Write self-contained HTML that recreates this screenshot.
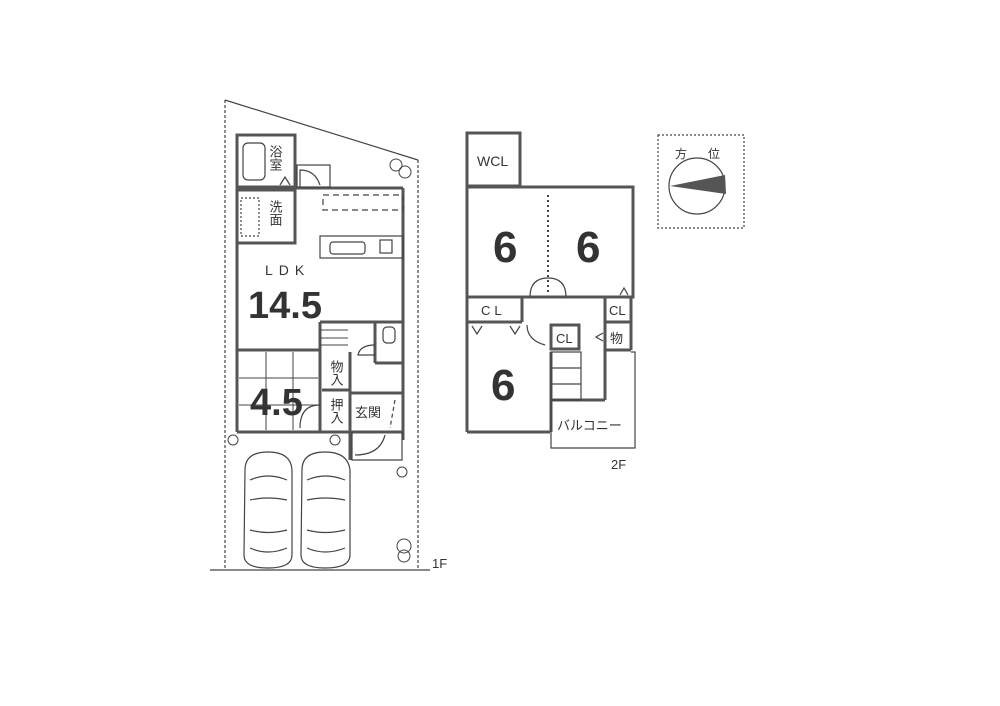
<!DOCTYPE html>
<html><head><meta charset="utf-8"><style>
html,body{margin:0;padding:0;background:#fff;}
svg{display:block}
text{font-family:"Liberation Sans","Noto Sans CJK JP",sans-serif;fill:#333}
</style></head><body>
<svg width="1000" height="706" viewBox="0 0 1000 706" xmlns="http://www.w3.org/2000/svg">
<g fill="none" stroke="#444" stroke-width="1.2">
<line x1="225" y1="100" x2="225" y2="570" stroke-dasharray="3,2"/>
<line x1="225" y1="100" x2="418" y2="160"/>
<line x1="418" y1="160" x2="418" y2="570" stroke-dasharray="3,2"/>
<line x1="210" y1="570" x2="430" y2="570"/>
<g stroke-width="3" stroke="#555">
<rect x="237" y="135" width="58" height="52"/>
<rect x="237" y="190" width="58" height="53"/>
<line x1="295" y1="188" x2="403" y2="188"/>
<line x1="403" y1="188" x2="403" y2="440"/>
<line x1="237" y1="243" x2="237" y2="432"/>
<line x1="237" y1="350" x2="320" y2="350"/>
<line x1="237" y1="432" x2="402" y2="432"/>
<line x1="320" y1="322" x2="402" y2="322"/>
<line x1="320" y1="322" x2="320" y2="432"/>
<line x1="350" y1="352" x2="350" y2="460"/>
<line x1="375" y1="322" x2="375" y2="363"/>
<line x1="375" y1="363" x2="402" y2="363"/>
<line x1="350" y1="393" x2="402" y2="393"/>
<line x1="322" y1="390" x2="350" y2="390"/>
</g>
<rect x="243" y="143" width="22" height="37" rx="5"/>
<rect x="297" y="165" width="33" height="22"/>
<path d="M300 187 V170 Q315 170 320 185"/>
<rect x="323" y="195" width="80" height="15" stroke-dasharray="6,4"/>
<rect x="320" y="236" width="83" height="22"/>
<rect x="330" y="242" width="35" height="12" rx="3"/>
<rect x="380" y="240" width="12" height="13"/>
<rect x="241" y="198" width="18" height="38" stroke-dasharray="2,2"/>
<g stroke-width="1">
<line x1="320" y1="330" x2="348" y2="330"/><line x1="320" y1="338" x2="348" y2="338"/><line x1="320" y1="345" x2="348" y2="345"/>
<line x1="266" y1="352" x2="266" y2="430"/><line x1="293" y1="352" x2="293" y2="430"/><line x1="239" y1="378" x2="318" y2="378"/><line x1="239" y1="405" x2="318" y2="405"/>
</g>
<rect x="383" y="327" width="12" height="16" rx="4"/>
<path d="M375 345 Q360 345 358 355 L375 355"/>
<path d="M300 428 Q300 405 320 405"/>
<path d="M352 432 V460 H402 V432"/>
<path d="M355 455 Q380 455 385 435"/>
<line x1="395" y1="400" x2="390" y2="428" stroke-dasharray="4,3"/>
<g stroke-width="1.2">
<path d="M245 470 Q245 452 268 452 Q291 452 292 470 L292 555 Q292 568 268 568 Q244 568 244 555 Z"/>
<path d="M250 480 Q268 472 287 480 M250 500 Q268 496 287 500 M250 530 Q268 535 287 530 M250 548 Q268 556 287 548"/>
<path d="M302 470 Q302 452 325 452 Q348 452 350 470 L350 555 Q350 568 325 568 Q301 568 301 555 Z"/>
<path d="M307 480 Q325 472 345 480 M307 500 Q325 496 345 500 M307 530 Q325 535 345 530 M307 548 Q325 556 345 548"/>
</g>
<g stroke-width="1">
<circle cx="233" cy="440" r="5"/><circle cx="335" cy="440" r="5"/><circle cx="402" cy="472" r="5"/>
<circle cx="404" cy="546" r="7"/><circle cx="404" cy="556" r="6"/><circle cx="396" cy="165" r="6"/><circle cx="405" cy="172" r="6"/>
</g>
<g stroke-width="3" stroke="#555">
<rect x="467" y="133" width="53" height="53"/>
<rect x="467" y="187" width="166" height="110"/>
<line x1="467" y1="297" x2="467" y2="432"/>
<line x1="467" y1="432" x2="550" y2="432"/>
<line x1="467" y1="322" x2="522" y2="322"/>
<line x1="522" y1="297" x2="522" y2="322"/>
<line x1="605" y1="297" x2="605" y2="350"/>
<line x1="631" y1="297" x2="631" y2="350"/>
<line x1="605" y1="322" x2="631" y2="322"/>
<line x1="605" y1="350" x2="631" y2="350"/>
<rect x="551" y="325" width="28" height="24"/>
<line x1="551" y1="352" x2="551" y2="432"/>
<line x1="551" y1="400" x2="605" y2="400"/>
<line x1="605" y1="350" x2="605" y2="400"/>
</g>
<line x1="548" y1="195" x2="548" y2="295" stroke-dasharray="2,3" stroke-width="2"/>
<path d="M530 297 Q530 278 548 278 Q566 278 566 297"/>
<rect x="551" y="352" width="30" height="48"/>
<line x1="551" y1="368" x2="581" y2="368"/><line x1="551" y1="384" x2="581" y2="384"/>
<path d="M551 400 V448 H635 V352 H631"/>
<path d="M527 325 Q527 340 545 345"/>
<path d="M472 326 L477 334 L482 326 M510 326 L515 334 L520 326 M620 295 L624 288 L628 295 M603 333 L596 337 L603 341"/>
<path d="M280 185 L285 177 L290 185"/>
<rect x="658" y="135" width="86" height="93" stroke-dasharray="2,2"/>
<circle cx="697" cy="186" r="28"/>
</g>
<path d="M670 186 L725 175 L726 194 Z" fill="#555"/>
<text x="275" y="145" font-size="13" writing-mode="tb">浴室</text>
<text x="275" y="200" font-size="13" writing-mode="tb">洗面</text>
<text x="265" y="275" font-size="14" letter-spacing="6">LDK</text>
<text x="248" y="318" font-size="38" font-weight="bold" fill="#555">14.5</text>
<text x="250" y="415" font-size="38" font-weight="bold" fill="#555">4.5</text>
<text x="336" y="360" font-size="13" writing-mode="tb">物入</text>
<text x="336" y="398" font-size="13" writing-mode="tb">押入</text>
<text x="355" y="417" font-size="13">玄関</text>
<text x="432" y="568" font-size="13">1F</text>
<text x="477" y="166" font-size="14">WCL</text>
<text x="493" y="262" font-size="44" font-weight="bold" fill="#555">6</text>
<text x="576" y="262" font-size="44" font-weight="bold" fill="#555">6</text>
<text x="491" y="400" font-size="44" font-weight="bold" fill="#555">6</text>
<text x="481" y="315" font-size="13" letter-spacing="4">CL</text>
<text x="609" y="315" font-size="13">CL</text>
<text x="556" y="343" font-size="13">CL</text>
<text x="610" y="343" font-size="13">物</text>
<text x="557" y="430" font-size="13">バルコニー</text>
<text x="611" y="469" font-size="13">2F</text>
<text x="675" y="158" font-size="12">方</text>
<text x="708" y="158" font-size="12">位</text>
</svg>
</body></html>
